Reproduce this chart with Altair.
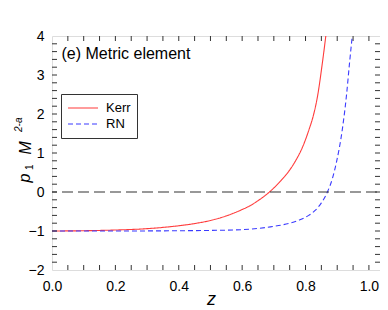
import altair as alt
import pandas as pd

# ---- data ----
kerr_z = [0.0, 0.1, 0.2, 0.3, 0.4, 0.45, 0.5, 0.55, 0.6, 0.623, 0.65, 0.686, 0.72, 0.748, 0.77, 0.79, 0.811, 0.825, 0.838, 0.853, 0.864, 0.867]
kerr_v = [-1.0, -0.993, -0.975, -0.94, -0.865, -0.81, -0.73, -0.613, -0.45, -0.36, -0.223, 0.0, 0.27, 0.54, 0.82, 1.14, 1.6, 1.97, 2.46, 3.3, 4.0, 4.2]
rn_z = [0.0, 0.2, 0.4, 0.5, 0.6, 0.654, 0.7, 0.75, 0.78, 0.81, 0.832, 0.85, 0.869, 0.885, 0.897, 0.916, 0.929, 0.939, 0.948, 0.951]
rn_v = [-1.0, -1.0, -0.993, -0.985, -0.965, -0.93, -0.88, -0.8, -0.72, -0.6, -0.46, -0.28, 0.0, 0.35, 0.74, 1.6, 2.46, 3.32, 4.05, 4.3]
series = ["Kerr", "RN"]
colors = ["#ff3b3b", "#3b3bff"]

x_labels = [0.0, 0.2, 0.4, 0.6, 0.8, 1.0]
y_labels = [-2, -1, 0, 1, 2, 3, 4]
x_minor = [0.05, 0.1, 0.15, 0.2, 0.25, 0.3, 0.35, 0.4, 0.45, 0.5, 0.55, 0.6, 0.65, 0.7, 0.75, 0.8, 0.85, 0.9, 0.95, 1.0]
y_minor = [-1.8, -1.6, -1.4, -1.2, -1.0, -0.8, -0.6, -0.4, -0.2, 0.0, 0.2, 0.4, 0.6, 0.8, 1.0, 1.2, 1.4, 1.6, 1.8,
           2.0, 2.2, 2.4, 2.6, 2.8, 3.0, 3.2, 3.4, 3.6, 3.8]
zero_line = [0.0]
note_text = ["(e) Metric element"]
note_x = [0.03]
note_y = [3.4]
x_title = "z"
y_title_parts = ["p", "1", "M", "2-a"]

FONT = "Liberation Sans"
W, H = 328, 234
X_DOM = [0, 1.035]
Y_DOM = [-2, 4]

df = pd.DataFrame(
    {"z": kerr_z + rn_z,
     "v": kerr_v + rn_v,
     "model": ["Kerr"] * len(kerr_z) + ["RN"] * len(rn_z),
     "order": list(range(len(kerr_z))) + list(range(len(rn_z)))}
)

xs = alt.Scale(domain=X_DOM, nice=False, zero=False)
ys = alt.Scale(domain=Y_DOM, nice=False, zero=False)

x_axis = alt.Axis(values=x_labels, format=".1f", ticks=False, domain=False, grid=False,
                  labelFont=FONT, labelFontSize=14, labelColor="black", labelPadding=9,
                  labelFlush=False, labelOverlap=False,
                  title=x_title, titleFont=FONT, titleFontSize=18, titleFontStyle="italic",
                  titleFontWeight="normal", titleX=159, titleY=34, titleBaseline="alphabetic",
                  titleColor="black")
y_axis = alt.Axis(values=y_labels, format="d", ticks=False, domain=False, grid=False,
                  labelFont=FONT, labelFontSize=14, labelColor="black", labelPadding=8,
                  labelFlush=False, labelOverlap=False, title=None)


def X(field):
    return alt.X(field, scale=xs, axis=x_axis)


def Y(field):
    return alt.Y(field, scale=ys, axis=y_axis)


legend_opts = dict(title=None, orient="none", legendX=9, legendY=58,
                   strokeColor="#333333", fillColor="white", padding=6,
                   symbolSize=900, symbolStrokeWidth=1.1, labelFont=FONT,
                   labelFontSize=13, labelColor="black", labelOffset=7,
                   rowPadding=0, clipHeight=16, symbolType="stroke")

lines = alt.Chart(df).mark_line(strokeWidth=1.1, clip=True, interpolate="monotone").encode(
    x=X("z:Q"),
    y=Y("v:Q"),
    color=alt.Color("model:N", scale=alt.Scale(domain=series, range=colors),
                    legend=alt.Legend(**legend_opts)),
    strokeDash=alt.StrokeDash("model:N", scale=alt.Scale(domain=series, range=[[1, 0], [5, 3]]),
                              legend=alt.Legend(**legend_opts)),
    order="order:Q",
)

zero = alt.Chart(pd.DataFrame({"v": zero_line})).mark_rule(
    color="#333333", strokeWidth=1.1, strokeDash=[11, 5], strokeDashOffset=-3
).encode(y=Y("v:Q"))

tick_x = pd.DataFrame({"z": x_minor})
tick_y = pd.DataFrame({"v": y_minor})
tcol = "#333333"
tb = alt.Chart(tick_x).mark_rule(color=tcol, strokeWidth=1).encode(
    x=X("z:Q"), y=alt.value(H), y2=alt.value(H - 5))
tt = alt.Chart(tick_x).mark_rule(color=tcol, strokeWidth=1).encode(
    x=X("z:Q"), y=alt.value(0), y2=alt.value(5))
tl = alt.Chart(tick_y).mark_rule(color=tcol, strokeWidth=1).encode(
    y=Y("v:Q"), x=alt.value(0), x2=alt.value(5))
tr = alt.Chart(tick_y).mark_rule(color=tcol, strokeWidth=1).encode(
    y=Y("v:Q"), x=alt.value(W), x2=alt.value(W - 5))

note = alt.Chart(pd.DataFrame({"z": note_x, "v": note_y, "t": note_text})).mark_text(
    font=FONT, fontSize=16, align="left", baseline="alphabetic", color="black"
).encode(x=X("z:Q"), y=Y("v:Q"), text="t:N")

# y-axis title composed of main text, subscript and superscript pieces
yt = pd.DataFrame({
    "t": y_title_parts,
    "px": [-22, -19.5, -21.5, -30],
    "py": [146.5, 134, 118.5, 96],
    "fs": [16, 10, 16, 10],
})
ytitle = []
for i in range(len(y_title_parts)):
    row = yt.iloc[[i]]
    ytitle.append(
        alt.Chart(row).mark_text(
            font=FONT, fontSize=int(row["fs"].iloc[0]), fontStyle="italic" if i != 1 else "normal",
            angle=270, align="left", baseline="alphabetic", color="black"
        ).encode(x=alt.value(float(row["px"].iloc[0])), y=alt.value(float(row["py"].iloc[0])), text="t:N")
    )

chart = alt.layer(lines, zero, tb, tt, tl, tr, note, *ytitle).properties(
    width=W, height=H,
    autosize=alt.AutoSizeParams(type="none"),
    padding={"left": 44, "top": 28, "right": 0, "bottom": 40},
).configure_view(stroke="#333333", strokeWidth=1).configure(background="white")

chart.save("out.html", embed_options={"renderer": "svg", "actions": False})
